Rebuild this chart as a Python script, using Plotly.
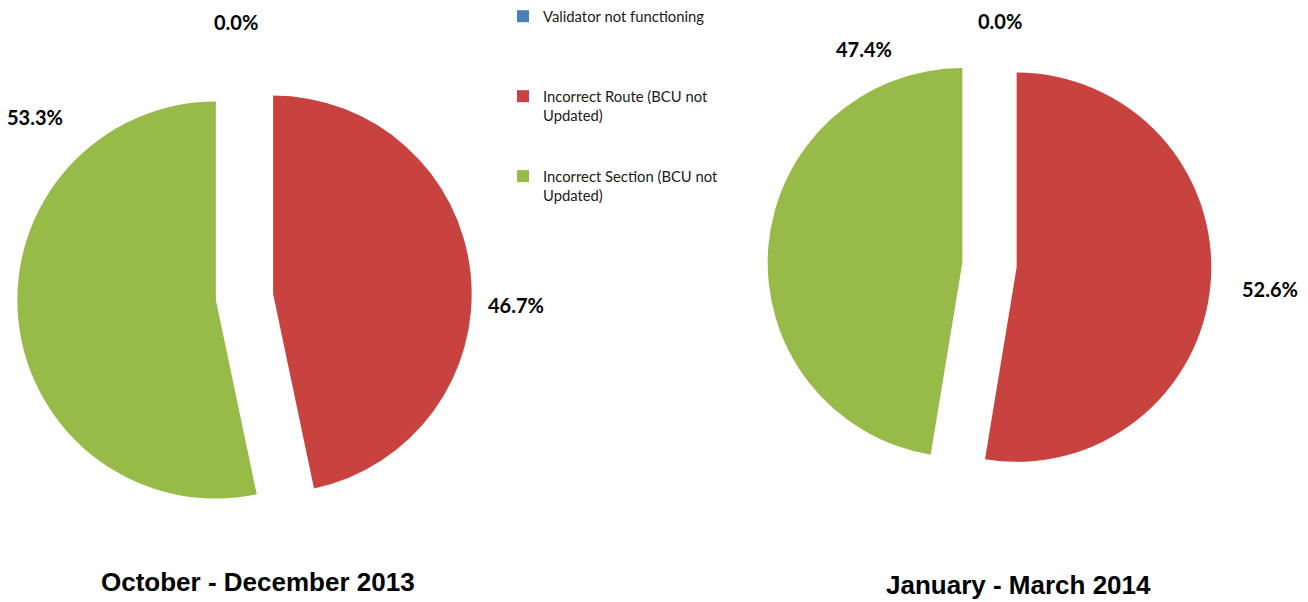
import plotly.graph_objects as go

# data (percent of complaints)
categories = [
    "Validator not functioning",
    "Incorrect Route (BCU not Updated)",
    "Incorrect Section (BCU not Updated)",
]
legend_labels = [
    "Validator not functioning<br> <br> <br> ",
    "Incorrect Route (BCU not<br>Updated)<br> <br> ",
    "Incorrect Section (BCU not<br>Updated)",
]
oct_dec_2013 = [0.0, 46.7, 53.3]
jan_mar_2014 = [0.0, 52.6, 47.4]
period_titles = ["October - December 2013", "January - March 2014"]

slice_colors = ["#4A7EBB", "#C8423F", "#98BA48"]

W, H = 1308, 602

# pie placement in pixels: centre x, centre y, half size of the domain box
pie_boxes = [(244.5, 293.5, 230), (989.5, 261, 224.5)]
pulls = [0.145, 0.14]
# pixel centres of the percentage labels, in slice order
label_pos = [
    [(236, 15), (515.5, 301), (35, 111)],
    [(999.5, 14), (1269.5, 285), (864, 43)],
]
title_pos = [(258, 582), (1018, 585)]

label_font = dict(family="Lato, Open Sans, sans-serif", size=20, color="#000000")
title_font = dict(family="Liberation Sans, Arial, sans-serif", size=26, color="#000000")


def px_domain(cx, cy, half):
    return dict(x=[(cx - half) / W, (cx + half) / W],
                y=[1 - (cy + half) / H, 1 - (cy - half) / H])


fig = go.Figure()
annotations = []
for k, values in enumerate([oct_dec_2013, jan_mar_2014]):
    fig.add_trace(go.Pie(
        labels=legend_labels,
        values=values,
        customdata=categories,
        sort=False,
        direction="clockwise",
        rotation=0,
        pull=[pulls[k]] * len(values),
        marker=dict(colors=slice_colors, line=dict(width=0)),
        textinfo="none",
        hovertemplate="%{customdata}: %{value:.1f}%<extra></extra>",
        domain=px_domain(*pie_boxes[k]),
        showlegend=True,
    ))
    total = sum(values)
    for v, (px, py) in zip(values, label_pos[k]):
        annotations.append(dict(
            text=f"<b>{100 * v / total:.1f}%</b>",
            x=px / W, y=1 - py / H, xref="paper", yref="paper",
            xanchor="center", yanchor="middle", showarrow=False, font=label_font,
        ))
    annotations.append(dict(
        text=f"<b>{period_titles[k]}</b>",
        x=title_pos[k][0] / W, y=1 - title_pos[k][1] / H, xref="paper", yref="paper",
        xanchor="center", yanchor="middle", showarrow=False, font=title_font,
    ))

fig.update_layout(
    width=W, height=H,
    margin=dict(l=0, r=0, t=0, b=0),
    paper_bgcolor="white",
    plot_bgcolor="white",
    annotations=annotations,
    legend=dict(
        x=503 / W, y=1 + 7 / H, xanchor="left", yanchor="top",
        valign="top", traceorder="normal",
        font=dict(family="Lato, Open Sans, sans-serif", size=14.8, color="#1a1a1a"),
        bgcolor="rgba(0,0,0,0)",
    ),
)

# page body has an 8px default margin; drop it so the figure sits at 0,0
fig.write_html("out.html", config={"displayModeBar": False},
               post_script="document.body.style.margin='0';")
